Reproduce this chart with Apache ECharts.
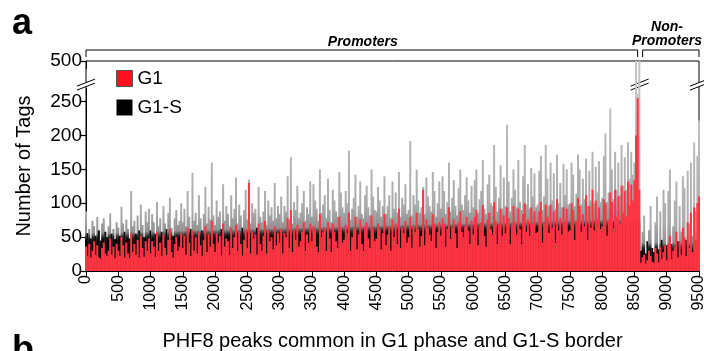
<!DOCTYPE html>
<html>
<head>
<meta charset="utf-8">
<title>PHF8 peaks G1 / G1-S</title>
<script src="https://cdn.jsdelivr.net/npm/echarts@6/dist/echarts.min.js"></script>
<style>
  html, body { margin: 0; padding: 0; background: #fff; }
  #chart { width: 704px; height: 351px; }
</style>
</head>
<body>
<div id="chart"></div>
<script>
// one value every 25th peak (peaks 0 .. 9500), tag counts
const peakStep = 25;
const g1sTags = [
  88,56,62,48,74,66,52,80,60,45,70,78,58,50,66,85,55,62,47,72,
  64,52,95,70,58,76,62,48,118,66,74,55,82,60,98,68,50,88,72,92,
  60,84,72,55,102,66,78,58,96,70,62,86,108,64,52,78,90,68,74,100,
  72,92,66,118,80,62,145,74,86,68,112,78,60,84,124,70,95,76,160,82,
  68,104,80,88,62,128,74,96,84,66,112,78,92,138,70,98,82,64,90,120,
  76,135,70,100,86,92,64,124,80,72,88,118,68,104,82,94,74,130,78,96,
  84,110,72,96,88,140,76,168,70,102,90,126,78,86,100,118,74,94,84,132,
  80,128,104,92,74,150,86,98,112,78,136,90,72,120,104,88,80,146,116,94,
  86,118,100,178,76,92,108,142,80,96,132,84,78,112,126,94,82,150,110,90,
  88,124,104,80,96,140,84,96,112,78,132,92,116,86,146,80,108,98,128,84,
  90,192,82,112,98,150,104,86,94,124,84,138,110,96,88,146,118,80,100,132,
  92,140,118,84,102,160,88,108,134,96,82,122,150,98,90,112,138,104,86,126,
  94,134,150,86,106,118,164,92,84,128,142,100,96,186,124,88,108,156,92,138,
  96,216,132,88,108,150,120,94,164,102,90,140,186,98,128,92,152,110,144,94,
  98,148,170,90,110,186,136,96,160,104,144,92,172,100,130,94,158,112,150,98,
  100,160,142,96,114,172,150,98,136,106,166,96,148,104,176,100,154,116,162,102,
  108,170,203,102,116,240,150,106,176,120,160,112,186,126,168,120,190,136,176,142,
  160,560,262,560,30,58,82,26,44,60,96,34,28,72,110,32,88,46,120,100,
  38,118,150,40,66,104,132,44,96,58,140,122,46,148,70,160,52,190,88,170,
  222
];
const g1Tags = [
  36,22,40,20,30,44,24,38,20,18,34,42,26,22,30,48,24,36,19,40,
  30,22,50,38,20,42,26,19,56,28,40,24,46,20,52,34,21,44,30,48,
  26,44,36,21,58,30,42,22,54,34,24,46,62,28,20,40,50,30,36,56,
  34,52,24,64,42,22,60,30,50,26,58,38,22,46,66,28,54,36,74,40,
  28,56,42,52,23,70,36,48,44,24,64,34,50,68,30,58,40,23,46,62,
  34,130,26,58,48,54,24,70,40,30,52,74,26,60,44,50,32,66,38,56,
  42,62,26,56,50,78,34,90,28,60,46,68,36,44,58,72,30,54,42,70,
  44,66,60,36,28,84,50,58,64,30,72,48,28,70,58,44,34,80,64,42,
  46,68,56,86,30,50,62,80,32,54,76,40,30,66,72,48,34,82,62,44,
  48,70,62,32,56,84,38,54,66,30,76,50,70,40,92,34,64,56,74,42,
  50,80,34,66,58,86,62,36,52,120,38,76,64,54,44,84,70,34,58,72,
  52,78,70,36,62,94,48,64,76,56,34,72,88,58,50,66,80,60,40,74,
  54,80,90,38,66,72,98,52,36,76,86,62,54,102,74,40,68,92,52,82,
  56,94,78,40,68,96,72,54,92,62,40,84,100,58,76,52,94,70,88,56,
  58,88,102,42,70,98,80,56,98,64,88,42,106,60,78,54,94,72,92,58,
  60,100,90,46,74,108,96,58,84,66,112,46,96,64,120,60,104,76,94,62,
  66,106,100,52,76,116,102,64,120,80,110,70,126,86,118,80,132,96,128,104,
  134,200,255,120,12,20,24,11,16,30,22,14,12,34,26,13,36,18,28,38,
  16,40,52,18,30,36,58,20,44,24,64,50,22,72,34,86,28,94,46,100,
  110
];
const yTickValues = [0, 50, 100, 150, 200, 250, 500];
const promoterEnd = 8580;   // promoter peaks end here, non-promoter peaks follow
const xMax = 9500;

const font = 'Liberation Sans, Arial, Helvetica, sans-serif';
const red = '#ff3342';

let chart = echarts.init(document.getElementById('chart'));

const pairs = arr => arr.map((v, i) => [i * peakStep, v]);
const g1sPairs = pairs(g1sTags);
const g1Pairs = pairs(g1Tags);
const g1sProm = g1sPairs.filter(p => p[0] < promoterEnd);
const g1sNonProm = g1sPairs.filter(p => p[0] >= promoterEnd);

const barCommon = { type: 'bar', barWidth: 2, barGap: '-100%', clip: true, silent: true };

chart.setOption({
  animation: false,
  textStyle: { fontFamily: font, color: '#000' },
  grid: {
    left: 86, right: 5, top: 61, bottom: 80, outerBoundsMode: 'none', containLabel: false,
    show: true, borderColor: '#000', borderWidth: 1
  },
  legend: {
    orient: 'vertical', left: 111, top: 64, itemWidth: 16, itemHeight: 16, itemGap: 10,
    icon: 'rect', selectedMode: false,
    textStyle: { fontSize: 19, color: '#000', fontFamily: font },
    data: [
      { name: 'G1', itemStyle: { color: '#ff1020', borderColor: '#555', borderWidth: 1 } },
      { name: 'G1-S', itemStyle: { color: '#000' } }
    ]
  },
  xAxis: {
    type: 'value', min: 0, max: xMax, interval: 500,
    name: 'PHF8 peaks common in G1 phase and G1-S border',
    nameLocation: 'middle', nameGap: 60,
    nameTextStyle: { fontSize: 20, color: '#000', fontFamily: font },
    axisLine: { lineStyle: { color: '#000', width: 1 } },
    axisTick: { show: true, length: 5, lineStyle: { color: '#000' } },
    axisLabel: { rotate: 90, fontSize: 16, color: '#000', margin: 4, fontFamily: font, formatter: v => String(v) },
    splitLine: { show: false }
  },
  yAxis: {
    type: 'value', min: 0, max: 500, interval: 50,
    breaks: [{ start: 270, end: 490, gap: 30 }],
    breakArea: { show: false },
    name: 'Number of Tags', nameLocation: 'middle', nameGap: 52,
    nameTextStyle: { fontSize: 20, color: '#000', fontFamily: font },
    axisLine: { show: true, lineStyle: { color: '#000', width: 1 } },
    axisTick: {
      show: true, length: 6, lineStyle: { color: '#000', width: 1.2 },
      customValues: yTickValues
    },
    axisLabel: {
      fontSize: 19, color: '#000', margin: 4, fontFamily: font,
      customValues: yTickValues
    },
    splitLine: { show: false }
  },
  series: [
    Object.assign({ name: 'G1-S', data: g1sProm, z: 2, itemStyle: { color: '#555' } }, barCommon),
    Object.assign({ name: 'G1-S', data: g1sNonProm, z: 2, itemStyle: { color: '#555' } }, barCommon),
    Object.assign({ name: 'G1', data: g1Pairs, z: 3, itemStyle: { color: red } }, barCommon)
  ]
});

// colours, break marks, brackets and panel letters placed from the axis scales
function decorate() {
  const px = v => chart.convertToPixel({ xAxisIndex: 0 }, v);
  const py = v => chart.convertToPixel({ yAxisIndex: 0 }, v);
  const x0 = px(0), xs = px(promoterEnd), x1 = px(xMax);

  // G1-S: dense black band near the bottom, grey spikes above; the band rises along the promoters
  const band0 = 44, band1 = 64;
  const bandAt = x => band0 + (band1 - band0) * x / 8000;
  const slope = (py(band1) - py(band0)) / (px(8000) - x0);
  const len = py(0) - py(250);
  const nx = -slope, ny = 1, nl = Math.sqrt(nx * nx + ny * ny);
  const bx = x0, by = py(0);
  const top = [bx - nx / nl * len, by - ny / nl * len];
  const off = v => 1 - v / 250;
  const gradProm = new echarts.graphic.LinearGradient(top[0], top[1], bx, by, [
    { offset: 0, color: '#c4c4c4' },
    { offset: off(band0 + 40), color: '#aaaaaa' },
    { offset: off(band0 + 12), color: '#909090' },
    { offset: off(band0 + 5), color: '#2a2a2a' },
    { offset: off(band0), color: '#000' },
    { offset: 1, color: '#000' }
  ], true);
  const gradNon = new echarts.graphic.LinearGradient(0, py(250), 0, py(0), [
    { offset: 0, color: '#c4c4c4' },
    { offset: off(70), color: '#aaaaaa' },
    { offset: off(42), color: '#909090' },
    { offset: off(35), color: '#2a2a2a' },
    { offset: off(30), color: '#000' },
    { offset: 1, color: '#000' }
  ], true);
  // low G1-S peaks stay black all the way up, so the band keeps a ragged top
  const promColor = p => (p.value[1] <= bandAt(p.value[0]) + 16 ? '#0d0d0d' : gradProm);
  const nonColor = p => (p.value[1] <= 46 ? '#0d0d0d' : gradNon);

  const yb = py(270) - 3;
  const breakMark = x => ({
    type: 'group', x: x, y: yb, z: 100,
    children: [
      { type: 'polygon', shape: { points: [[-9, 5], [9, -2], [9, -6], [-9, 1]] }, style: { fill: '#fff' } },
      { type: 'line', shape: { x1: -9, y1: 5, x2: 9, y2: -2 }, style: { stroke: '#000', lineWidth: 1 } },
      { type: 'line', shape: { x1: -9, y1: 1, x2: 9, y2: -6 }, style: { stroke: '#000', lineWidth: 1 } }
    ]
  });
  const bracket = (a, b) => ({
    type: 'polyline', z: 100,
    shape: { points: [[a, 57], [a, 50], [b, 50], [b, 57]] },
    style: { stroke: '#000', lineWidth: 1, fill: null }
  });
  const label = (x, y, t) => ({
    type: 'text', x: x, y: y, z: 100,
    style: { text: t, fill: '#000', font: 'italic bold 14px ' + font, align: 'center', verticalAlign: 'middle' }
  });
  chart.setOption({
    series: [
      { itemStyle: { color: promColor } },
      { itemStyle: { color: nonColor } },
      {}
    ],
    graphic: [
      breakMark(x0), breakMark(xs), breakMark(x1),
      bracket(x0, xs - 2), bracket(xs + 3, x1),
      label((x0 + xs) / 2, 42, 'Promoters'),
      label(667, 27, 'Non-'),
      label(667, 41, 'Promoters'),
      { type: 'text', x: 12, y: 42, style: { text: 'a', fill: '#000', font: 'bold 36px ' + font, verticalAlign: 'bottom' } },
      { type: 'text', x: 12, y: 369, style: { text: 'b', fill: '#000', font: 'bold 36px ' + font, verticalAlign: 'bottom' } }
    ]
  });
}
decorate();
</script>
</body>
</html>
